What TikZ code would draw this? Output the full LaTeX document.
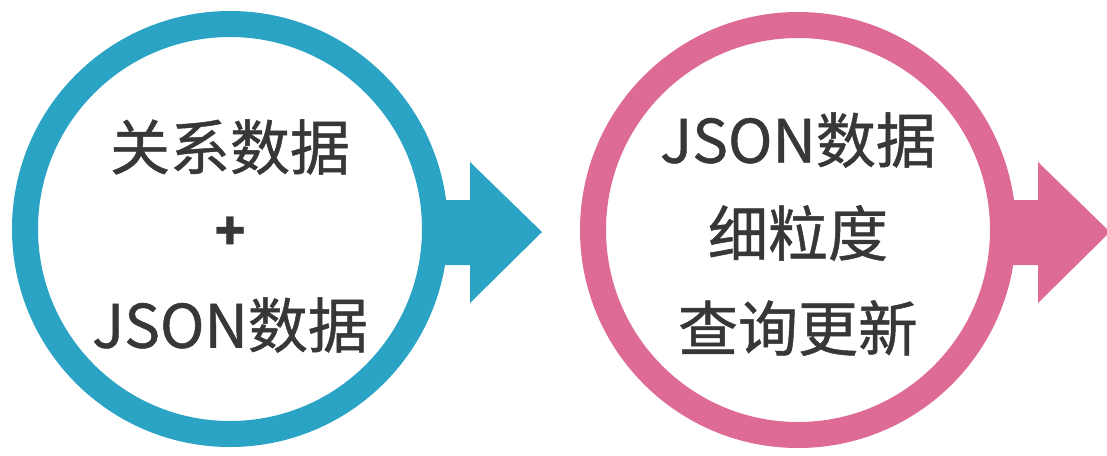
\documentclass[tikz,border=0pt]{standalone}
\usepackage{fontspec}
\usepackage{xcolor}
\usepackage{tikz}
\newfontfamily\cjk[FakeBold=0.8]{Noto Sans CJK SC}
\usetikzlibrary{positioning}
\definecolor{ringblue}{RGB}{43,163,196}
\definecolor{ringpink}{RGB}{222,106,150}
\definecolor{txtgray}{RGB}{55,55,55}

\begin{document}
\begin{tikzpicture}[x=0.75pt,y=0.75pt,yscale=-1,xscale=1,
  ring/.style={circle,draw=#1,line width=19.5pt,fill=white,minimum size=307.5pt,inner sep=0pt},
  txt/.style={inner sep=0pt,text=txtgray,font=\cjk\fontsize{45}{54}\selectfont}]
%set diagram size: 1107 x 455
\useasboundingbox (0,0) rectangle (1107,455);

%Right Arrow [blue]
\fill [ringblue] (425,200) -- (470,200) -- (470,162) -- (542,232) -- (470,303) -- (470,265) -- (425,265) -- cycle ;
%Right Arrow [pink]
\fill [ringpink] (993,200) -- (1038,200) -- (1038,162) -- (1110,232) -- (1038,303) -- (1038,265) -- (993,265) -- cycle ;

%Circle [blue]
\node [ring=ringblue] (blue) at (230,229) {};
%Circle [pink]
\node [ring=ringpink] (pink) at (798,230) {};

% Text Node
\node [txt] (blue1) at (230,147) {关系数据};
% Text Node
\node [txt,font=\cjk\bfseries\fontsize{38}{46}\selectfont] (blue2) at (230,233) {+};
% Text Node
\node [txt] (blue3) at (230,325) {JSON数据};
% Text Node
\node [txt] (pink1) at (798,140) {JSON数据};
% Text Node
\node [txt] (pink2) at (798,233) {细粒度};
% Text Node
\node [txt] (pink3) at (798,328) {查询更新};

\end{tikzpicture}
\end{document}
